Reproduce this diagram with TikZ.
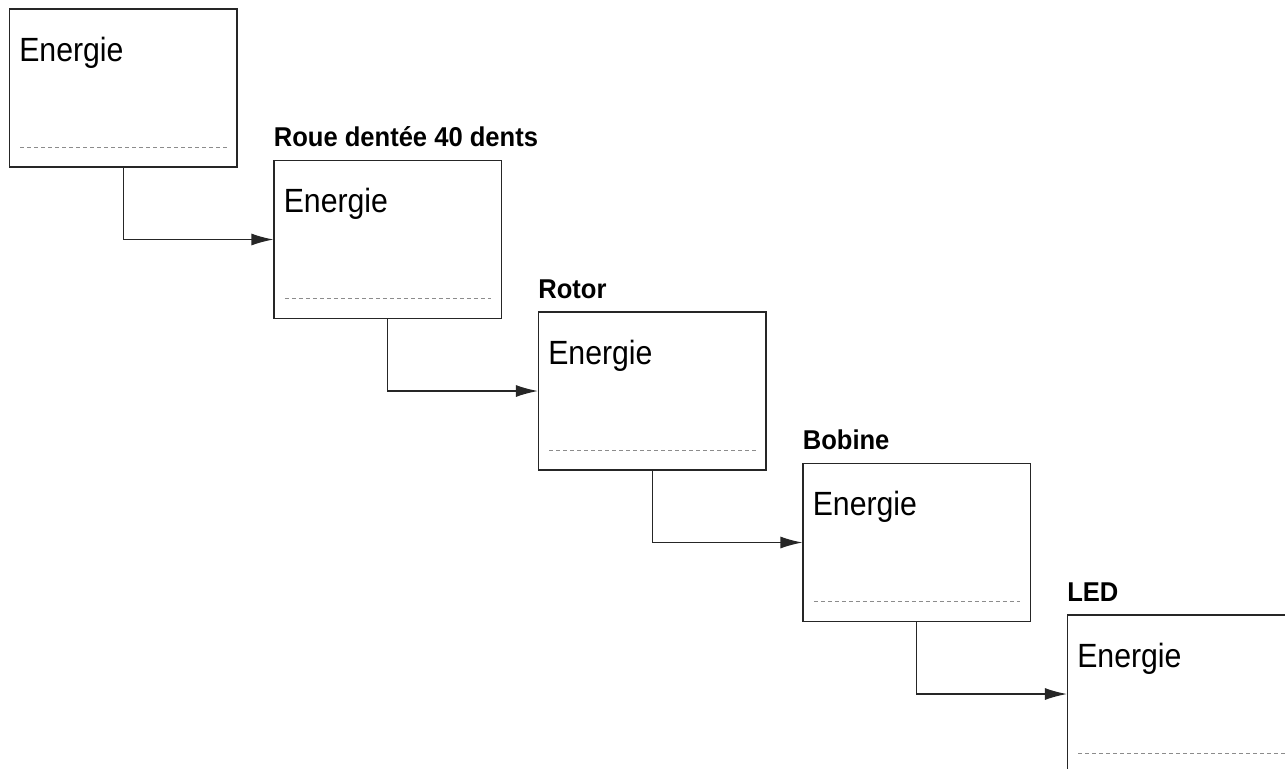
\documentclass[tikz,border=0pt]{standalone}
\usepackage{fontspec}
\setmainfont{Liberation Sans}
\newfontfamily\nrjfont{Liberation Sans}[FakeStretch=0.9]
\newfontfamily\titlefont{Liberation Sans}[FakeStretch=0.94]
\usepackage{tikz}
\usetikzlibrary{arrows.meta,positioning}
\tikzset{stage/.style={draw=black!85,line width=0.6pt,minimum width=113.75pt,minimum height=79pt,inner sep=0pt}}
\tikzset{nrj/.style={anchor=base west,inner sep=0pt,font=\nrjfont\fontsize{16.8}{19}\selectfont}}
\tikzset{title/.style={anchor=base west,inner sep=0pt,font=\titlefont\fontsize{13.6}{16}\selectfont\bfseries}}
\tikzset{sep/.style={draw=black!45,line width=0.4pt,dash pattern=on 2pt off 1.5pt}}
\tikzset{flow/.style={draw=black!85,line width=0.6pt,-{Latex[length=11pt,width=6pt]}}}

\begin{document}
\begin{tikzpicture}
    \useasboundingbox (0,0) rectangle (642.5pt,-384pt);

    \node[stage] (b1) at (61.625pt,-44pt) {};
    \node[stage] (b2) at (193.875pt,-119.75pt) {};
    \node[stage] (b3) at (326.125pt,-195.5pt) {};
    \node[stage] (b4) at (458.375pt,-271.25pt) {};
    \node[stage] (b5) at (590.625pt,-347pt) {};

     \node[title] (t2) at ([yshift=6.5pt]b2.north west) {Roue dentée 40 dents};
     \node[title] (t3) at ([yshift=6.5pt]b3.north west) {Rotor};
     \node[title] (t4) at ([yshift=6.5pt]b4.north west) {Bobine};
     \node[title] (t5) at ([yshift=6.5pt]b5.north west) {LED};

     \node[nrj] (e1) at ([xshift=5pt,yshift=-26.4pt]b1.north west) {Energie};
     \node[nrj] (e2) at ([xshift=5pt,yshift=-26.4pt]b2.north west) {Energie};
     \node[nrj] (e3) at ([xshift=5pt,yshift=-26.4pt]b3.north west) {Energie};
     \node[nrj] (e4) at ([xshift=5pt,yshift=-26.4pt]b4.north west) {Energie};
     \node[nrj] (e5) at ([xshift=5pt,yshift=-26.4pt]b5.north west) {Energie};

        \path[sep] ([xshift=5.75pt,yshift=10.25pt]b1.south west) -- ([xshift=-5.5pt,yshift=10.25pt]b1.south east);
        \path[sep] ([xshift=5.75pt,yshift=10.25pt]b2.south west) -- ([xshift=-5.5pt,yshift=10.25pt]b2.south east);
        \path[sep] ([xshift=5.75pt,yshift=10.25pt]b3.south west) -- ([xshift=-5.5pt,yshift=10.25pt]b3.south east);
        \path[sep] ([xshift=5.75pt,yshift=10.25pt]b4.south west) -- ([xshift=-5.5pt,yshift=10.25pt]b4.south east);
        \path[sep] ([xshift=5.75pt,yshift=10.25pt]b5.south west) -- ([xshift=-5.5pt,yshift=10.25pt]b5.south east);

        \path[flow] (b1.south) |- (b2.west);
        \path[flow] (b2.south) |- (b3.west);
        \path[flow] (b3.south) |- (b4.west);
        \path[flow] (b4.south) |- (b5.west);
  \end{tikzpicture}
\end{document}
